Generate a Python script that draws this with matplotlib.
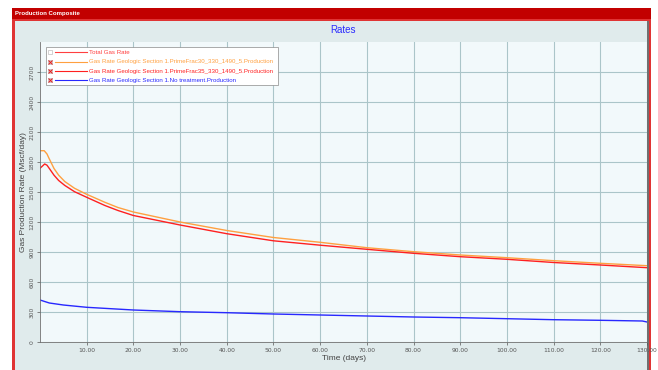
import numpy as np
import matplotlib.pyplot as plt
from matplotlib.patches import Rectangle
from matplotlib.lines import Line2D

W, H = 658, 370

# values (time in days, rate in Mscf/day)
t_frac30 = [0, 0.9, 1.5, 2, 3, 4, 5.3, 7.4, 10, 13.9, 16.7, 20, 30, 40, 50, 60, 70, 80, 90, 100, 110, 120, 130]
q_frac30 = [1913, 1913, 1880, 1830, 1735, 1668, 1605, 1537, 1477, 1397, 1345, 1300, 1200, 1115, 1045, 997, 943, 903, 870, 843, 813, 787, 763]

t_frac35 = [0, 1.0, 1.5, 2, 3, 4, 5.3, 7.4, 10, 13.9, 16.7, 20, 30, 40, 50, 60, 70, 80, 90, 100, 110, 120, 130]
q_frac35 = [1737, 1780, 1768, 1735, 1668, 1615, 1566, 1503, 1447, 1365, 1315, 1265, 1170, 1083, 1012, 968, 927, 887, 853, 827, 795, 770, 743]

t_notreat = [0, 2, 5, 10, 20, 30, 40, 50, 60, 70, 80, 90, 100, 110, 120, 129, 130]
q_notreat = [420, 390, 370, 347, 320, 303, 293, 280, 270, 260, 250, 243, 233, 223, 217, 210, 200]

legend_labels = [
    "Total Gas Rate",
    "Gas Rate Geologic Section 1.PrimeFrac30_330_1490_5.Production",
    "Gas Rate Geologic Section 1.PrimeFrac35_330_1490_5.Production",
    "Gas Rate Geologic Section 1.No treatment.Production",
]
legend_colors = ["#ff4040", "#ffa040", "#ff2020", "#2828ff"]
legend_checked = [False, True, True, True]

x_ticks = np.arange(10, 131, 10)
x_ticklabels = [f"{v:.2f}" for v in x_ticks]
y_ticks = np.arange(0, 2701, 300)


def fx(x):
    return x / W


def fy(y):
    return 1 - y / H


def frect(x0, y0, x1, y1, **kw):
    # rectangle given in screen pixels (top-left origin)
    return Rectangle((fx(x0), fy(y1)), (x1 - x0) / W, (y1 - y0) / H,
                     transform=fig.transFigure, **kw)


fig = plt.figure(figsize=(W / 100, H / 100), dpi=100)
fig.patch.set_facecolor("white")

# window frame (drawn under the axes)
fig.patches.append(frect(12, 8, 651, 370, facecolor="#e03434", edgecolor="none", zorder=-3))
fig.patches.append(frect(12, 8, 651, 18.5, facecolor="#c20000", edgecolor="none", zorder=-3))
fig.patches.append(frect(15, 21, 648, 370, facecolor="#e0ebec", edgecolor="none", zorder=-2))
fig.patches.append(frect(647, 21, 648.5, 370, facecolor="#707070", edgecolor="none", zorder=-1))
fig.text(fx(15), fy(13.5), "Production Composite", color="white", fontsize=4.3,
         fontweight="bold", va="center", ha="left", family="Liberation Sans")
fig.text(fx(343), fy(30), "Rates", color="#2a2aff", fontsize=7,
         va="center", ha="center", family="Liberation Sans")

ax = fig.add_axes([fx(40), fy(342), 607 / W, 300 / H])
ax.set_facecolor("#f2f9fb")

ax.plot(t_frac30, q_frac30, color=legend_colors[1], lw=1.0)
ax.plot(t_frac35, q_frac35, color=legend_colors[2], lw=1.0)
ax.plot(t_notreat, q_notreat, color=legend_colors[3], lw=1.0)

ax.set_xlim(0, 130)
ax.set_ylim(0, 3000)
ax.set_xticks(x_ticks)
ax.set_xticklabels(x_ticklabels)
ax.set_yticks(y_ticks)
ax.grid(True, color="#abc5c9", lw=0.8)
ax.set_axisbelow(True)
ax.tick_params(axis="both", labelsize=4.3, colors="#555555", length=2, width=0.5, pad=2)
for lab in ax.get_yticklabels():
    lab.set_rotation(90)
    lab.set_va("center")
for s in ["top", "right"]:
    ax.spines[s].set_visible(False)
for s in ["left", "bottom"]:
    ax.spines[s].set_color("#707070")
    ax.spines[s].set_linewidth(0.6)
ax.set_xlabel("Time (days)", fontsize=6, color="#444444", labelpad=2, family="Liberation Sans")
ax.set_ylabel("Gas Production Rate (Mscf/day)", fontsize=6, color="#444444", labelpad=2,
              family="Liberation Sans")

# legend with check boxes, as drawn by the application
fig.patches.append(frect(46, 47, 278, 84.5, facecolor="white", edgecolor="#8a8a8a", lw=0.5, zorder=5))
rows = [52.3, 61.7, 71, 80.3]
for y, lab, col, chk in zip(rows, legend_labels, legend_colors, legend_checked):
    fig.patches.append(frect(48.3, y - 1.8, 52, y + 1.8, facecolor="#f4d0d0" if chk else "white",
                             edgecolor="#b0b0b0", lw=0.4, zorder=6))
    if chk:
        fig.lines.append(Line2D([fx(50.15)], [fy(y)], transform=fig.transFigure, marker="x",
                                ms=2.2, mew=0.7, color="#e02020", zorder=7))
    fig.lines.append(Line2D([fx(55), fx(87.3)], [fy(y), fy(y)], transform=fig.transFigure,
                            color=col, lw=0.8, zorder=6))
    fig.text(fx(89), fy(y), lab, color=col, fontsize=4.4, va="center", ha="left",
             family="Liberation Sans", zorder=7)

fig.savefig("out.png", dpi=100)
